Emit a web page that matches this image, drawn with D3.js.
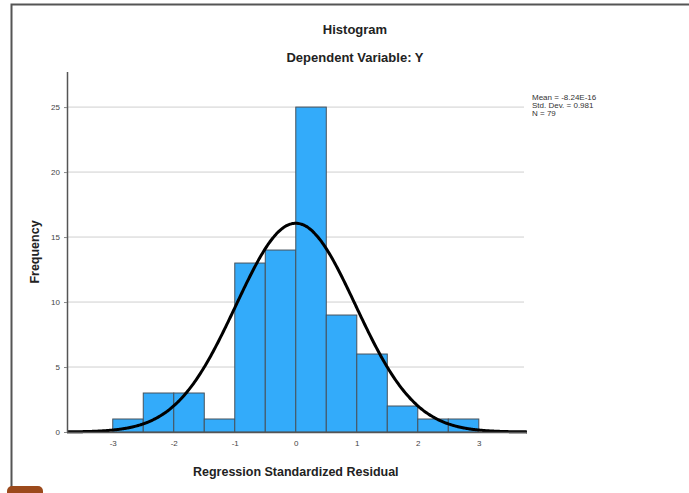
<!DOCTYPE html>
<html>
<head>
<meta charset="utf-8">
<script src="https://cdn.jsdelivr.net/npm/d3@7"></script>
<style>
  body { margin: 0; background: #fff; }
  svg { display: block; font-family: "Liberation Sans", Arial, sans-serif; }
</style>
</head>
<body>
<div id="chart"></div>
<script>
// bins of regression standardized residual (width 0.5)
const binStarts = [-3, -2.5, -2, -1.5, -1, -0.5, 0, 0.5, 1, 1.5, 2, 2.5];
const counts = [1, 3, 3, 1, 13, 14, 25, 9, 6, 2, 1, 1];
const binWidth = 0.5;
const xTicks = [-3, -2, -1, 0, 1, 2, 3];
const yTicks = [0, 5, 10, 15, 20, 25];
const stats = { mean: -8.24e-16, sd: 0.981, n: 79 };
const statLabels = ["Mean = -8.24E-16", "Std. Dev. = 0.981", "N = 79"];

const W = 689, H = 493;
const margin = { top: 72, left: 67, right: 162, bottom: 61 };
const width = W - margin.left - margin.right,
    height = H - margin.top - margin.bottom;

const svg = d3.select("#chart").append("svg")
    .attr("width", W)
    .attr("height", H);

// outer frame of the output viewer
svg.append("path")
    .attr("d", `M11.5,${H} L11.5,4.5 L${W},4.5`)
    .attr("fill", "none")
    .attr("stroke", "#555")
    .attr("stroke-width", 2);
svg.append("rect")
    .attr("x", 7).attr("y", 486).attr("width", 36).attr("height", 14)
    .attr("rx", 5)
    .attr("fill", "#9c4a1c");

const g = svg.append("g")
    .attr("transform", `translate(${margin.left},${margin.top})`);

const x = d3.scaleLinear().domain([-3.75, 3.79]).range([0, width]);
const y = d3.scaleLinear().domain([0, 27.7]).range([height, 0]);

// gridlines
g.selectAll(".grid")
    .data(yTicks.filter(d => d > 0))
    .enter().append("line")
    .attr("x1", 0).attr("x2", width - 3)
    .attr("y1", d => y(d)).attr("y2", d => y(d))
    .attr("stroke", "#cfcfcf")
    .attr("stroke-width", 1);

// bars
g.selectAll(".bar")
    .data(binStarts)
    .enter().append("rect")
    .attr("x", d => x(d))
    .attr("y", (d, i) => y(counts[i]))
    .attr("width", x(binWidth) - x(0))
    .attr("height", (d, i) => height - y(counts[i]))
    .attr("fill", "#33abfa")
    .attr("stroke", "#46525c")
    .attr("stroke-width", 1);

// normal curve
const scale = stats.n * binWidth / (stats.sd * Math.sqrt(2 * Math.PI));
const curvePts = d3.range(0, 401).map(i => {
    const v = x.domain()[0] + (x.domain()[1] - x.domain()[0]) * i / 400;
    return [v, scale * Math.exp(-0.5 * Math.pow((v - stats.mean) / stats.sd, 2))];
});
g.append("path")
    .datum(curvePts)
    .attr("fill", "none")
    .attr("stroke", "#000")
    .attr("stroke-width", 3)
    .attr("d", d3.line().x(d => x(d[0])).y(d => y(d[1])).curve(d3.curveBasis));

// axes (hyphen minus like SPSS)
const fmt = d => String(d);
const xAxis = g.append("g")
    .attr("transform", `translate(0,${height})`)
    .call(d3.axisBottom(x).tickValues(xTicks).tickSize(0).tickPadding(8).tickFormat(fmt));
const yAxis = g.append("g")
    .call(d3.axisLeft(y).tickValues(yTicks).tickSize(3).tickPadding(4).tickFormat(fmt));

[xAxis, yAxis].forEach(a => {
    a.select(".domain").attr("stroke", "#555").attr("stroke-width", 1.5);
    a.selectAll(".tick line").attr("stroke", "#888");
    a.selectAll(".tick text").attr("fill", "#444").style("font-size", "8px");
});
xAxis.select(".domain").attr("d", `M0,0.5H${width}`);
yAxis.select(".domain").attr("d", `M0.5,0V${height}`);

// titles
svg.append("text")
    .attr("x", 355).attr("y", 34)
    .attr("text-anchor", "middle")
    .style("font-size", "13px").style("font-weight", "bold")
    .attr("fill", "#222")
    .text("Histogram");
svg.append("text")
    .attr("x", 355).attr("y", 62)
    .attr("text-anchor", "middle")
    .style("font-size", "13px").style("font-weight", "bold")
    .attr("fill", "#222")
    .text("Dependent Variable: Y");

svg.append("text")
    .attr("x", margin.left + x(0)).attr("y", 476)
    .attr("text-anchor", "middle")
    .style("font-size", "12.5px").style("font-weight", "bold")
    .attr("fill", "#222")
    .text("Regression Standardized Residual");

svg.append("text")
    .attr("transform", "translate(39,252) rotate(-90)")
    .attr("text-anchor", "middle")
    .style("font-size", "12.5px").style("font-weight", "bold")
    .attr("fill", "#222")
    .text("Frequency");

// stats legend
svg.append("g").selectAll("text")
    .data(statLabels)
    .enter().append("text")
    .attr("x", 532)
    .attr("y", (d, i) => 100 + i * 8)
    .style("font-size", "8px")
    .attr("fill", "#333")
    .text(d => d);
</script>
</body>
</html>
